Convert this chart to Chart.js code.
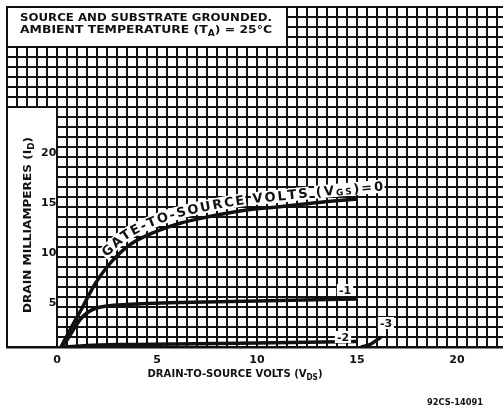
<!DOCTYPE html>
<html>
<head>
<meta charset="utf-8">
<script src="https://cdn.jsdelivr.net/npm/chart.js@4.4.1/dist/chart.umd.min.js"></script>
<style>
  html, body { margin: 0; padding: 0; background: #fff; }
  canvas { display: block; }
</style>
</head>
<body>
<canvas id="chart" width="503" height="412"></canvas>
<script>
// drain current (mA) vs drain-to-source volts, one pair of arrays per gate voltage
const vdsGate0 = [0.2, 0.7, 1.2, 1.9, 2.5, 3.1, 3.7, 4.9, 6.2, 7.5, 9.5, 11.0, 12.8, 15.0];
const idGate0  = [0, 1.9, 3.7, 6.3, 8.0, 9.3, 10.3, 11.5, 12.4, 13.0, 13.7, 14.0, 14.4, 14.8];

const vdsGate1 = [0.25, 0.6, 0.9, 1.2, 1.5, 1.9, 2.5, 3.5, 6.2, 10.0, 15.0];
const idGate1  = [0, 1.0, 2.0, 2.85, 3.4, 3.85, 4.1, 4.25, 4.45, 4.6, 4.8];

const vdsGate2 = [0.4, 1.5, 3.0, 6.0, 10.0, 15.0];
const idGate2  = [0, 0.15, 0.25, 0.3, 0.4, 0.55];

const vdsGate3 = [15.2, 15.7, 16.2];
const idGate3  = [0, 0.3, 1.0];

const curveNames = ['-1', '-2', '-3'];

const xTickLabels = [0, 5, 10, 15, 20];
const yTickLabels = [5, 10, 15, 20];

const ink = '#111';
const FONT = '"DejaVu Sans", sans-serif';

function pairs(xs, ys) {
  return xs.map((v, i) => ({ x: v, y: ys[i] }));
}

function steps(from, to, step) {
  const out = [];
  for (let v = from; v <= to + 1e-9; v += step) out.push({ value: Math.round(v * 100) / 100 });
  return out;
}

// text with optional subscripts, stretched to a given width
function drawRich(ctx, parts, x, y, width, size, align) {
  const main = `bold ${size}px ${FONT}`;
  const sub = `bold ${Math.round(size * 0.75)}px ${FONT}`;
  let nat = 0;
  const ws = parts.map(([t, s]) => {
    ctx.font = s ? sub : main;
    const w = ctx.measureText(t).width;
    nat += w;
    return w;
  });
  const k = width ? width / nat : 1;
  ctx.save();
  ctx.translate(x, y);
  ctx.scale(k, 1);
  ctx.textAlign = 'left';
  ctx.textBaseline = 'alphabetic';
  ctx.fillStyle = ink;
  let cx = align === 'center' ? -nat / 2 : 0;
  parts.forEach(([t, s], i) => {
    ctx.font = s ? sub : main;
    ctx.fillText(t, cx, s ? size * 0.3 : 0);
    cx += ws[i];
  });
  ctx.restore();
}

// writes a label along (and just above) the drawn curve of a dataset
function textAlongCurve(chart, dsIndex, parts, fromPx, toPx, lift, size) {
  const ctx = chart.ctx;
  const pts = chart.getDatasetMeta(dsIndex).data;
  const base = [];
  for (let i = 0; i < pts.length - 1; i++) {
    const a = pts[i], b = pts[i + 1];
    const c1x = a.cp2x ?? a.x, c1y = a.cp2y ?? a.y;
    const c2x = b.cp1x ?? b.x, c2y = b.cp1y ?? b.y;
    for (let k = 0; k < 12; k++) {
      const t = k / 12, u = 1 - t;
      base.push({
        x: u * u * u * a.x + 3 * u * u * t * c1x + 3 * u * t * t * c2x + t * t * t * b.x,
        y: u * u * u * a.y + 3 * u * u * t * c1y + 3 * u * t * t * c2y + t * t * t * b.y
      });
    }
  }
  const e = pts[pts.length - 1];
  base.push({ x: e.x, y: e.y });
  const p = base[base.length - 2];
  const dx = e.x - p.x, dy = e.y - p.y, dl = Math.hypot(dx, dy) || 1;
  for (let k = 1; k <= 14; k++) base.push({ x: e.x + dx / dl * 5 * k, y: e.y + dy / dl * 5 * k });

  const path = base.map((q, i) => {
    const a = base[Math.max(0, i - 2)], b = base[Math.min(base.length - 1, i + 2)];
    const tx = b.x - a.x, ty = b.y - a.y, tl = Math.hypot(tx, ty) || 1;
    return { x: q.x + ty / tl * lift, y: q.y - tx / tl * lift };
  });
  const s = [0];
  for (let i = 1; i < path.length; i++) {
    s.push(s[i - 1] + Math.hypot(path[i].x - path[i - 1].x, path[i].y - path[i - 1].y));
  }
  const at = d => {
    let i = 1;
    while (i < path.length - 1 && s[i] < d) i++;
    const f = (d - s[i - 1]) / ((s[i] - s[i - 1]) || 1);
    return { x: path[i - 1].x + (path[i].x - path[i - 1].x) * f, y: path[i - 1].y + (path[i].y - path[i - 1].y) * f };
  };
  const sAtX = px => {
    for (let i = 1; i < path.length; i++) {
      if (path[i].x >= px) {
        const f = (px - path[i - 1].x) / ((path[i].x - path[i - 1].x) || 1);
        return s[i - 1] + (s[i] - s[i - 1]) * f;
      }
    }
    return s[s.length - 1];
  };

  const main = `bold ${size}px ${FONT}`;
  const sub = `bold ${Math.round(size * 0.72)}px ${FONT}`;
  const glyphs = [];
  parts.forEach(([txt, isSub]) => {
    for (const ch of txt) {
      ctx.font = isSub ? sub : main;
      glyphs.push({ ch, sub: isSub, w: ctx.measureText(ch).width });
    }
  });
  const s0 = sAtX(fromPx), s1 = sAtX(toPx);
  const natural = glyphs.reduce((acc, g) => acc + g.w, 0);
  const gap = (s1 - s0 - natural) / (glyphs.length - 1);
  let cur = s0;
  glyphs.forEach(g => {
    g.mid = cur + g.w / 2;
    cur += g.w + gap;
    const a = at(g.mid - 7), b = at(g.mid + 7);
    g.ang = Math.atan2(b.y - a.y, b.x - a.x);
    g.p = at(g.mid);
  });

  ctx.save();
  ctx.fillStyle = '#fff';
  glyphs.forEach(g => {
    if (g.ch === ' ') return;
    ctx.save();
    ctx.translate(g.p.x, g.p.y);
    ctx.rotate(g.ang);
    ctx.fillRect(-g.w / 2 - gap / 2 - 0.5, -size * 0.5, g.w + gap + 1, size);
    ctx.restore();
  });
  ctx.fillStyle = ink;
  ctx.textAlign = 'center';
  ctx.textBaseline = 'middle';
  glyphs.forEach(g => {
    if (g.ch === ' ') return;
    ctx.save();
    ctx.translate(g.p.x, g.p.y);
    ctx.rotate(g.ang);
    ctx.font = g.sub ? sub : main;
    ctx.fillText(g.ch, 0, g.sub ? 3 : 1);
    ctx.restore();
  });
  ctx.restore();
}

// white panels cut out of the grid: [vds from, vds to, mA from, mA to]
const notePanel = [-2.5, 11.5, 30, 34];
const axisPanel = [-2.5, 0, 0, 24];
// where the small curve names sit: [vds, mA]
const curveNameAt = [[14.4, 5.7], [14.3, 1.0], [16.45, 2.4]];

const sheetPlugin = {
  id: 'sheet',
  beforeDatasetsDraw(chart) {
    const { ctx, scales: { x, y } } = chart;
    ctx.save();
    [notePanel, axisPanel].forEach(b => {
      const l = Math.round(x.getPixelForValue(b[0]));
      const r = Math.round(x.getPixelForValue(b[1]));
      const t = Math.round(y.getPixelForValue(b[3]));
      const btm = Math.round(y.getPixelForValue(b[2]));
      ctx.fillStyle = '#fff';
      ctx.fillRect(l, t, r - l, btm - t);
      ctx.strokeStyle = ink;
      ctx.lineWidth = 2;
      ctx.strokeRect(l, t, r - l, btm - t);
    });
    ctx.restore();
  },
  afterDatasetsDraw(chart) {
    const { ctx, chartArea, scales: { x, y } } = chart;

    // curve names
    ctx.save();
    ctx.font = `bold 11px ${FONT}`;
    ctx.textAlign = 'center';
    ctx.textBaseline = 'middle';
    curveNames.forEach((name, i) => {
      const px = x.getPixelForValue(curveNameAt[i][0]);
      const py = y.getPixelForValue(curveNameAt[i][1]);
      const w = ctx.measureText(name).width;
      ctx.fillStyle = '#fff';
      ctx.fillRect(px - w / 2 - 2, py - 6, w + 4, 12);
      ctx.fillStyle = ink;
      ctx.fillText(name, px, py + 1);
    });
    ctx.restore();

    textAlongCurve(chart, 0,
      [['GATE-TO-SOURCE VOLTS (V', false], ['GS', true], [')=0', false]],
      x.getPixelForValue(2.35), x.getPixelForValue(16.3), 10.5, 13);

    // note panel
    drawRich(ctx, [['SOURCE AND SUBSTRATE GROUNDED.', false]],
      chartArea.left + 13, chartArea.top + 14, 252, 11, 'left');
    drawRich(ctx, [['AMBIENT TEMPERATURE (T', false], ['A', true], [') = 25°C', false]],
      chartArea.left + 13, chartArea.top + 26, 252, 11, 'left');

    // y axis title
    ctx.save();
    ctx.translate(x.getPixelForValue(-1.5), y.getPixelForValue(12.2));
    ctx.rotate(-Math.PI / 2);
    drawRich(ctx, [['DRAIN MILLIAMPERES (I', false], ['D', true], [')', false]], 0, 4, 176, 11, 'center');
    ctx.restore();

    // x axis title and drawing number
    drawRich(ctx, [['DRAIN-TO-SOURCE VOLTS (V', false], ['DS', true], [')', false]],
      x.getPixelForValue(8.9), chartArea.bottom + 30, 175, 11, 'center');
    drawRich(ctx, [['92CS-14091', false]],
      x.getPixelForValue(19.9), chartArea.bottom + 58, 56, 9, 'center');
  }
};

const curveStyle = {
  borderColor: ink,
  borderWidth: 3.5,
  pointRadius: 0,
  fill: false,
  cubicInterpolationMode: 'monotone'
};

new Chart(document.getElementById('chart'), {
  type: 'line',
  data: {
    datasets: [
      { label: '0', data: pairs(vdsGate0, idGate0), ...curveStyle },
      { label: '-1', data: pairs(vdsGate1, idGate1), ...curveStyle },
      { label: '-2', data: pairs(vdsGate2, idGate2), ...curveStyle },
      { label: '-3', data: pairs(vdsGate3, idGate3), ...curveStyle }
    ]
  },
  options: {
    responsive: false,
    animation: false,
    devicePixelRatio: 1,
    layout: { padding: { left: 7, top: 7, right: 0, bottom: 0 } },
    plugins: { legend: { display: false }, tooltip: { enabled: false } },
    scales: {
      x: {
        type: 'linear',
        min: -2.5,
        max: 22.3,
        afterBuildTicks: s => { s.ticks = steps(-2.5, 22, 0.5); },
        afterFit: s => { s.height = 65; s.paddingLeft = 0; s.paddingRight = 0; },
        grid: { color: ink, lineWidth: 2, drawTicks: false },
        border: { display: true, color: ink, width: 2.5, z: 1 },
        ticks: {
          autoSkip: false,
          maxRotation: 0,
          padding: 7,
          color: ink,
          font: { family: FONT, size: 11, weight: 'bold' },
          callback: v => xTickLabels.includes(v) ? String(v) : ''
        }
      },
      y: {
        min: 0,
        max: 34,
        afterBuildTicks: s => { s.ticks = steps(0, 34, 1); },
        afterFit: s => { s.width = 0; s.paddingTop = 0; s.paddingBottom = 0; },
        grid: { color: ink, lineWidth: 2, drawTicks: false },
        border: { display: true, color: ink, width: 2, z: 1 },
        ticks: {
          mirror: true,
          crossAlign: 'far',
          padding: 34,
          labelOffset: 6,
          z: 1,
          autoSkip: false,
          color: ink,
          font: { family: FONT, size: 11, weight: 'bold' },
          callback: v => yTickLabels.includes(v) ? String(v) : ''
        }
      }
    }
  },
  plugins: [sheetPlugin]
});
</script>
</body>
</html>
